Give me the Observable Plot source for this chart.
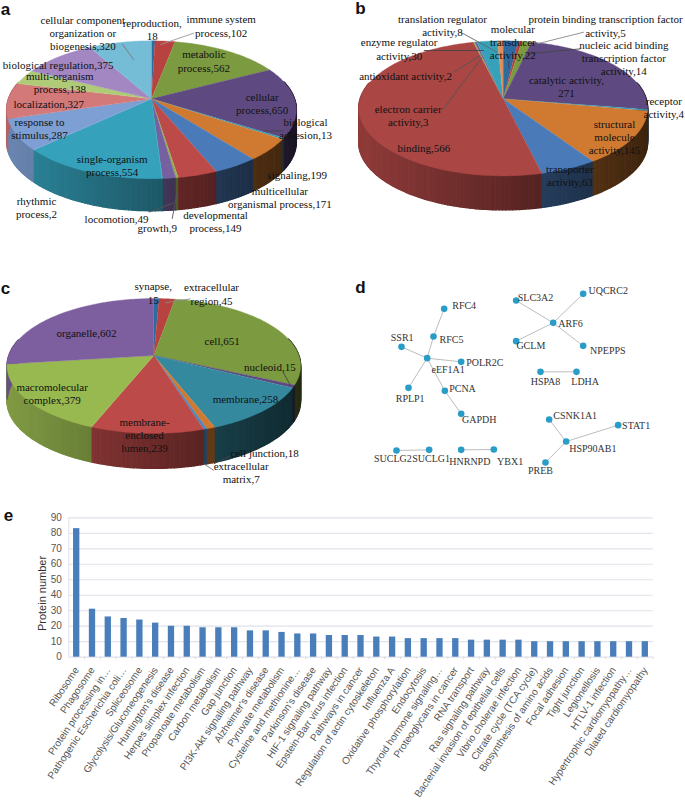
<!DOCTYPE html>
<html>
<head>
<meta charset="utf-8">
<script src="https://cdn.jsdelivr.net/npm/d3@7"></script>
<script src="https://cdn.jsdelivr.net/npm/@observablehq/plot@0.6"></script>
<style>
html,body{margin:0;padding:0;background:#fff}
#root{position:relative;width:685px;height:800px;overflow:hidden}
#root svg{position:absolute;overflow:visible;background:transparent}
</style>
</head>
<body>
<div id="root"></div>
<script>
// ---------- Panel a : biological process ----------
const aValues = [18,102,562,650,13,199,171,149,9,49,2,554,287,327,138,375,320];
const aColors = ["#2f6ba3","#b8423f","#7c9a3f","#5e4a80","#3a9ab5","#cf7a30","#4a7ab8","#bb4a48","#93b04c","#77609f","#35a0b8","#35a1bb","#7e9fd3","#d4797a","#afcb77","#a287c3","#75bcd6"];
const aLabels = ["cellular component\norganization or\nbiogenesis,320","reproduction,\n18","immune system\nprocess,102","metabolic\nprocess,562","cellular\nprocess,650","biological\nadhesion,13","signaling,199","multicellular\norganismal process,171","developmental\nprocess,149","growth,9","locomotion,49","rhythmic\nprocess,2","single-organism\nprocess,554","response to\nstimulus,287","localization,327","multi-organism\nprocess,138","biological regulation,375"];
const aLabelX = [247,455,662,610,785,915,890,838,645,470,348,108,335,117,145,178,173];
const aLabelY = [96,87,76,181,309,383,522,590,663,682,654,620,494,383,310,246,192];
const aLeaders = [[580,98,480,132,"#999"],[365,130,400,178,"#777"],[850,391,790,392,"#444"],[445,635,520,607,"#555"],[515,655,530,575,"#555"]];

// ---------- Panel b : molecular function ----------
const bValues = [22,5,14,271,4,145,63,566,2,3,30,8];
const bColors = ["#2f6ba3","#b8423f","#7c9a3f","#5e4a80","#3a9ab5","#cf7a30","#4a7ab8","#aa4644","#93b04c","#77609f","#35a1bb","#e08e58"];
const bLabels = ["translation regulator\nactivity,8","molecular\ntransducer\nactivity,22","protein binding transcription factor\nactivity,5","nucleic acid binding\ntranscription factor\nactivity,14","enzyme regulator\nactivity,30","antioxidant activity,2","catalytic activity,\n271","receptor\nactivity,4","structural\nmolecule\nactivity,145","electron carrier\nactivity,3","binding,566","transporter\nactivity,63"];
const bLabelX = [306,517,795,850,176,195,678,970,822,203,250,688];
const bLabelY = [75,124,76,171,145,225,257,320,409,345,442,525];
const bLeaders = [[360,95,470,155,"#666"],[250,150,430,150,"#444"],[340,215,420,165,"#555"],[305,330,425,170,"#555"],[505,180,505,205,"#444"],[730,95,590,130,"#888"],[720,145,560,160,"#444"]];

// ---------- Panel c : cellular component ----------
const cValues = [15,45,651,15,258,18,7,239,379,602];
const cColors = ["#2f6ba3","#b8423f","#7c9a3f","#5e4a80","#35899f","#cf7a30","#4a86c0","#bb4a48","#98b850","#7d5f9f"];
const cLabels = ["synapse,\n15","extracellular\nregion,45","organelle,602","cell,651","nucleoid,15","macromolecular\ncomplex,379","membrane,258","membrane-\nenclosed\nlumen,239","cell junction,18","extracellular\nmatrix,7"];
const cLabelX = [458,633,258,665,808,155,735,432,792,722];
const cLabelY = [67,70,187,210,288,368,385,492,547,606];
const cLeaders = [[570,85,495,97,"#888"],[848,305,870,345,"#444"],[690,555,640,580,"#444"],[640,600,610,580,"#777"]];

// ---------- Panel d : interaction network ----------
const nodeNames = ["RFC4","RFC5","SSR1","eEF1A1","POLR2C","RPLP1","PCNA","GAPDH","SUCLG2","SUCLG1","HNRNPD","YBX1","SLC3A2","UQCRC2","ARF6","GCLM","NPEPPS","HSPA8","LDHA","CSNK1A1","STAT1","HSP90AB1","PREB"];
const nodeX = [311,279,183,260,362,204,313,362,168,266,362,460,527,728,638,527,728,600,708,626,833,677,615];
const nodeY = [115,198,229,263,274,352,361,430,540,538,538,537,90,70,157,212,226,304,304,447,464,513,576];
const nodeLabelX = [371,333,185,323,433,209,366,416,157,272,388,509,585,803,690,571,802,615,734,704,887,757,600];
const nodeLabelY = [105,208,201,298,277,384,355,448,566,566,574,574,81,61,160,227,241,335,333,437,466,534,600];
const edges = [["RFC4","RFC5"],["RFC5","eEF1A1"],["SSR1","eEF1A1"],["POLR2C","eEF1A1"],["RPLP1","eEF1A1"],["PCNA","eEF1A1"],["PCNA","GAPDH"],["SUCLG2","SUCLG1"],["HNRNPD","YBX1"],["SLC3A2","ARF6"],["UQCRC2","ARF6"],["GCLM","ARF6"],["NPEPPS","ARF6"],["HSPA8","LDHA"],["CSNK1A1","HSP90AB1"],["STAT1","HSP90AB1"],["PREB","HSP90AB1"]];

// ---------- Panel e : KEGG pathways ----------
const pathways = ["Ribosome","Phagosome","Protein processing in…","Pathogenic Escherichia coli…","Spliceosome","Glycolysis/Gluconeogenesis","Huntington's disease","Herpes simplex infection","Propanoate metabolism","Carbon metabolism","Gap junction","PI3K-Akt signaling pathway","Alzheimer's disease","Pyruvate metabolism","Cysteine and methionine…","Parkinson's disease","HIF-1 signaling pathway","Epstein-Barr virus infection","Pathways in cancer","Regulation of actin cytoskeleton","Influenza A","Oxidative phosphorylation","Endocytosis","Thyroid hormone signaling…","Proteoglycans in cancer","RNA transport","Ras signaling pathway","Bacterial invasion of epithelial cells","Vibrio cholerae infection","Citrate cycle (TCA cycle)","Biosynthesis of amino acids","Focal adhesion","Tight junction","Legionellosis","HTLV-1 infection","Hypertrophic cardiomyopathy…","Dilated cardiomyopathy"];
const proteinCounts = [83,31,26,25,24,22,20,20,19,19,19,17,17,16,15,15,14,14,14,13,13,12,12,12,12,11,11,11,11,10,10,10,10,10,10,10,10];
const yTicks = [0,10,20,30,40,50,60,70,80,90];

const root = document.getElementById("root");
const SERIF = "'Liberation Serif'", SANS = "'Liberation Sans'";

function place(svg, left, top) {
  svg.style.left = left + "px";
  svg.style.top = top + "px";
  root.appendChild(svg);
}

// Perspective view of a circular pie: apex maps to the slice centre, slices
// run clockwise from 12 o'clock in proportion to their value.
function pieMarks({values, colors, labels, labelX, labelY, leaders, ax, ay, R, B, k, depth}) {
  const total = d3.sum(values);
  const rim = t => {
    const u = Math.sin(t), v = Math.cos(t), s = 1 / (1 + k * v);
    return [ax + R * u * s, ay - B * v * s];
  };
  const tops = [], walls = [];
  let cum = 0, wallId = 0;
  values.forEach((val, i) => {
    const t0 = cum / total * 2 * Math.PI;
    cum += val;
    const t1 = cum / total * 2 * Math.PI;
    const n = Math.max(2, Math.ceil((t1 - t0) / 0.02));
    const thetas = d3.range(n + 1).map(j => t0 + (t1 - t0) * j / n);
    tops.push({id: i, x: ax, y: ay, c: colors[i]});
    thetas.forEach(t => { const [x, y] = rim(t); tops.push({id: i, x, y, c: colors[i]}); });
    for (let j = 0; j < n; j++) {
      if (Math.cos(thetas[j]) > 0.25 && Math.cos(thetas[j + 1]) > 0.25) continue;
      const [x0, y0] = rim(thetas[j]), [x1, y1] = rim(thetas[j + 1]);
      const f = 0.84 - 0.54 * ((x0 + x1) / 2 - (ax - R)) / (2 * R);
      const col = d3.rgb(colors[i]);
      const c = d3.rgb(col.r * f, col.g * f, col.b * f).formatHex();
      const id = wallId++;
      walls.push({id, x: x0, y: y0, c}, {id, x: x1, y: y1, c}, {id, x: x1, y: y1 + depth, c}, {id, x: x0, y: y0 + depth, c});
    }
  });
  return [
    Plot.line(walls, {x: "x", y: "y", z: "id", fill: "c", stroke: "c", strokeWidth: 1.4}),
    Plot.line(tops, {x: "x", y: "y", z: "id", fill: "c", stroke: "c", strokeWidth: 0.4}),
    Plot.link(leaders, {x1: d => d[0], y1: d => d[1], x2: d => d[2], y2: d => d[3], stroke: d => d[4], strokeWidth: 0.9}),
    Plot.text(labels, {x: (d, i) => labelX[i], y: (d, i) => labelY[i], text: d => d, fontFamily: SERIF, fontSize: 11, lineHeight: 1.2, lineAnchor: "middle", fill: "#111"})
  ];
}

function panel(W, H, marks) {
  return Plot.plot({
    width: W, height: H, margin: 0,
    x: {domain: [0, W * 3], range: [0, W], axis: null},
    y: {domain: [0, H * 3], range: [0, H], axis: null},
    color: {type: "identity"},
    marks
  });
}
const letter = (ch, x, y) => Plot.text([ch], {x: () => x, y: () => y, text: d => d, fontFamily: SANS, fontWeight: "bold", fontSize: 17, fill: "#111"});

place(panel(340, 270, [
  ...pieMarks({values: aValues, colors: aColors, labels: aLabels, labelX: aLabelX, labelY: aLabelY, leaders: aLeaders, ax: 453, ay: 295, R: 429, B: 201.6, k: 0.159, depth: 96}),
  letter("a", 15, 26)
]), 0, 0);

place(panel(345, 270, [
  ...pieMarks({values: bValues, colors: bColors, labels: bLabels, labelX: bLabelX, labelY: bLabelY, leaders: bLeaders, ax: 488, ay: 295, R: 429, B: 198.6, k: 0.141, depth: 102}),
  letter("b", 60, 24)
]), 340, 0);

place(panel(340, 230, [
  ...pieMarks({values: cValues, colors: cColors, labels: cLabels, labelX: cLabelX, labelY: cLabelY, leaders: cLeaders, ax: 460, ay: 255, R: 435, B: 197.4, k: 0.155, depth: 105}),
  letter("c", 15, 55)
]), 0, 270);

const nodeIndex = new Map(nodeNames.map((n, i) => [n, i]));
place(panel(345, 230, [
  Plot.link(edges, {
    x1: d => nodeX[nodeIndex.get(d[0])], y1: d => nodeY[nodeIndex.get(d[0])],
    x2: d => nodeX[nodeIndex.get(d[1])], y2: d => nodeY[nodeIndex.get(d[1])],
    stroke: "#bdbdbd", strokeWidth: 1
  }),
  Plot.dot(nodeNames, {x: (d, i) => nodeX[i], y: (d, i) => nodeY[i], r: 3.3, fill: "#2a9cc8", stroke: "none"}),
  Plot.text(nodeNames, {x: (d, i) => nodeLabelX[i], y: (d, i) => nodeLabelY[i], text: d => d, fontFamily: SERIF, fontSize: 10, fill: "#333"}),
  letter("d", 60, 52)
]), 340, 270);

const bandStep = (652.7 - 68.3) / pathways.length;
place(Plot.plot({
  width: 685, height: 300,
  marginLeft: 68.3, marginRight: 32.3, marginTop: 17.3, marginBottom: 143.3,
  style: {fontFamily: SANS},
  x: {type: "band", domain: pathways, paddingInner: 0.6, paddingOuter: 0.3, round: false, label: null},
  y: {domain: [0, 90], label: null},
  marks: [
    Plot.ruleY(yTicks, {stroke: "#e1e2ea", strokeWidth: 1.2}),
    Plot.ruleX([pathways[0]], {x: d => d, y1: 0, y2: 90, dx: -bandStep / 2, stroke: "#e1e2ea"}),
    Plot.ruleX(pathways, {x: d => d, y1: 0, y2: -1.6, dx: bandStep / 2, stroke: "#d9d9d9"}),
    Plot.barY(proteinCounts, {x: (d, i) => pathways[i], y: d => d, fill: "#4a7ebb"}),
    Plot.axisX({tickRotate: -56, tickSize: 0, tickPadding: 11, fontSize: 10, fill: "#555", label: null, tickFormat: d => d, lineWidth: Infinity, textOverflow: null}),
    Plot.axisY(yTicks, {tickSize: 0, tickPadding: 7, fontSize: 10, fill: "#555", label: null}),
    Plot.text(["Protein number"], {frameAnchor: "left", textAnchor: "middle", dx: -26.5, dy: 6, rotate: -90, text: d => d, fontSize: 11, fill: "#333", fontFamily: SANS}),
    Plot.text(["e"], {frameAnchor: "top-left", dx: -65, dy: -9, text: d => d, fontFamily: SANS, fontWeight: "bold", fontSize: 17, fill: "#111"})
  ]
}), 0, 500);
</script>
</body>
</html>
